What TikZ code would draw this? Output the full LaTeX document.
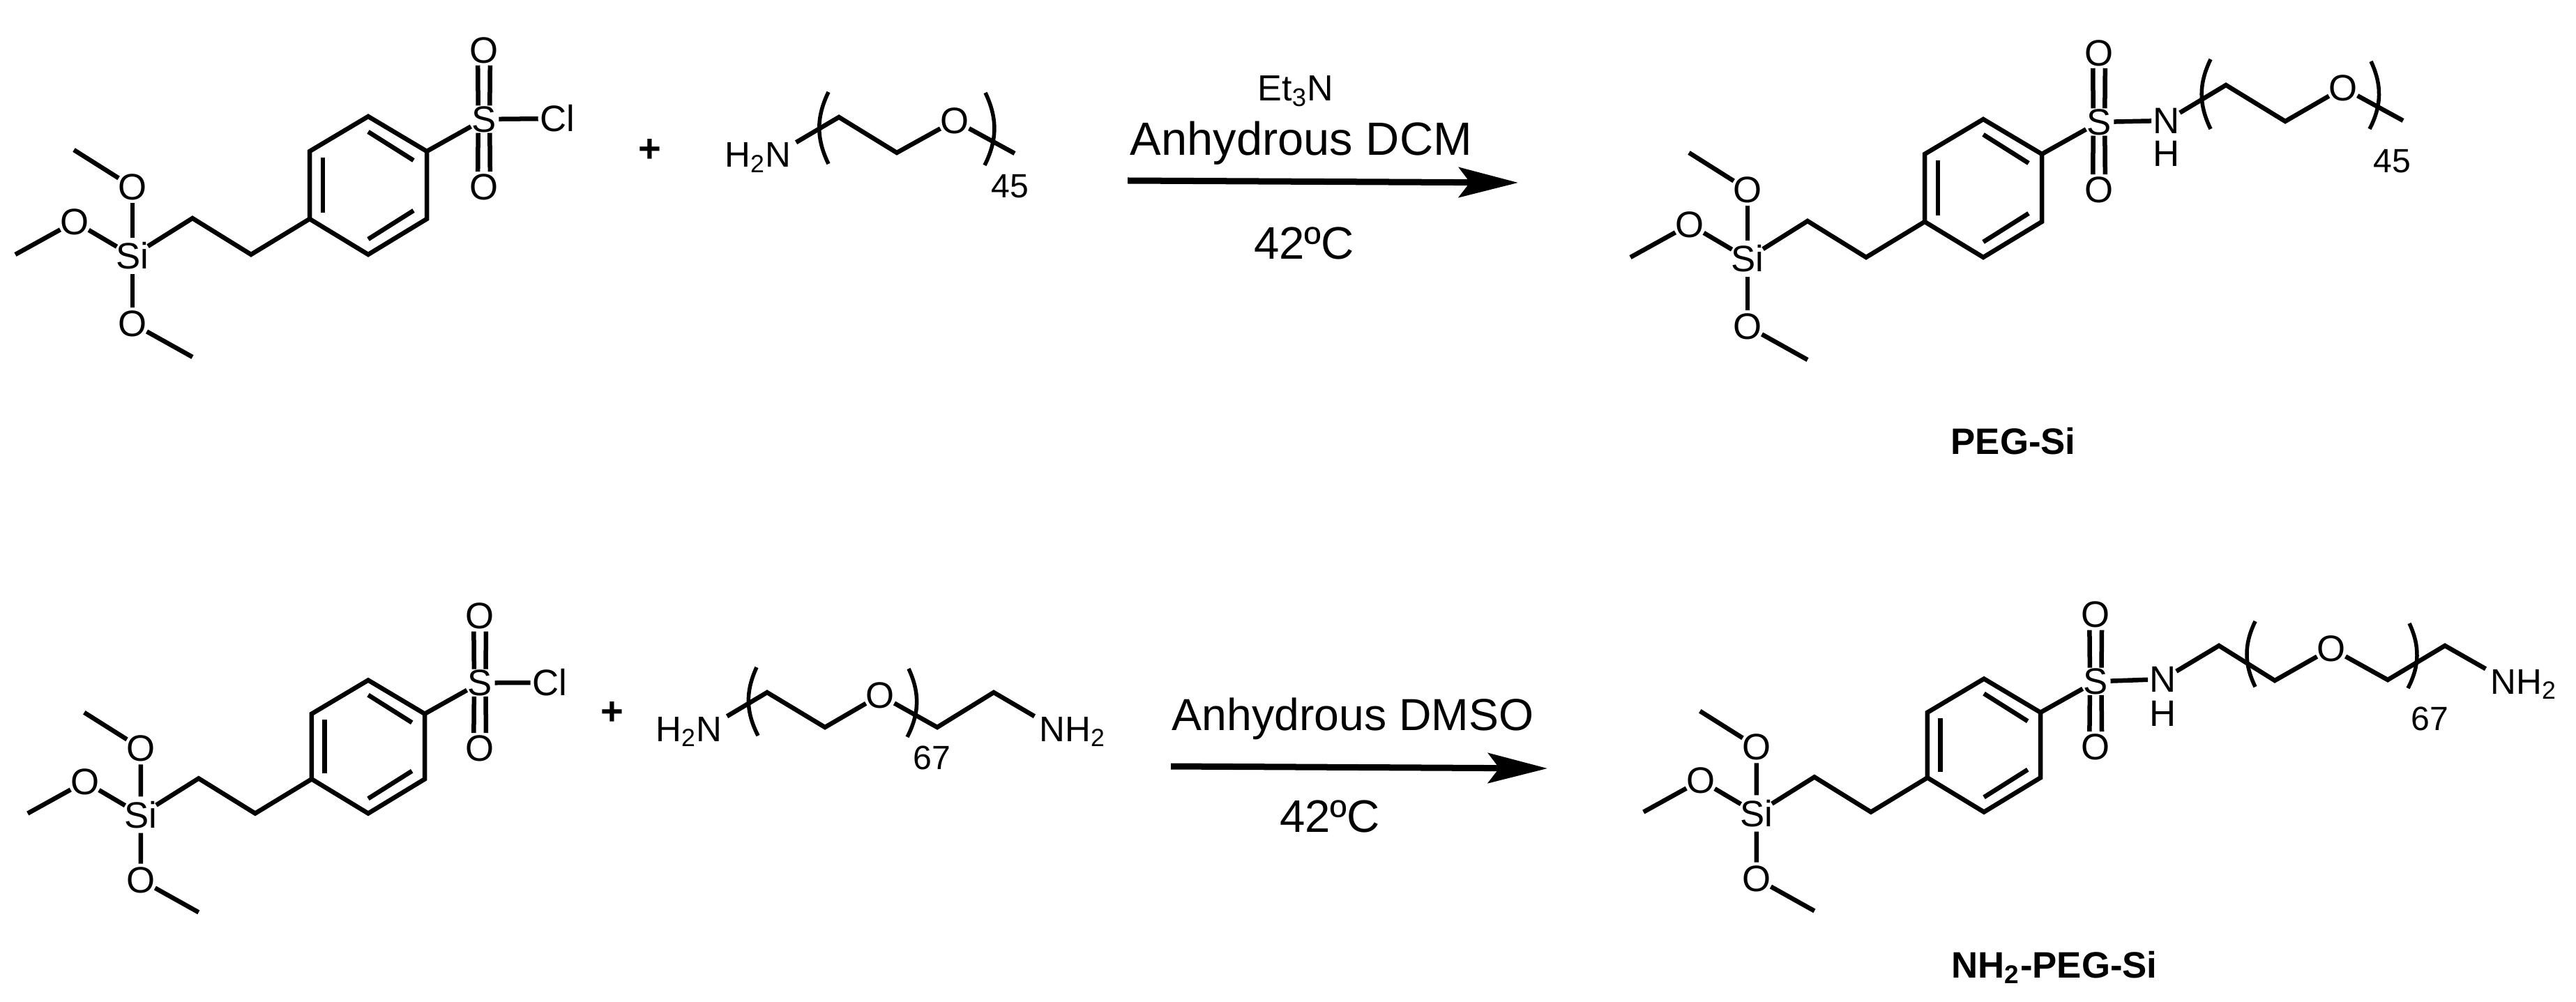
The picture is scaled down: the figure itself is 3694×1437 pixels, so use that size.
\documentclass[tikz,border=0pt]{standalone}
\usepackage{fontspec}
\setmainfont{Liberation Sans}
\usetikzlibrary{arrows.meta}
\usetikzlibrary{positioning}

\begin{document}
\begin{tikzpicture}[x=.01cm,y=-.01cm,>={Stealth[length=.85cm,width=.43cm,inset=.16cm]},
  bond/.style={line width=.065cm},
  paren/.style={line width=.055cm},
  rxn arrow/.style={->,line width=.09cm},
  atom node/.style={circle,inner sep=-1pt,font=\fontsize{15}{18}\selectfont},
  group node/.style={inner xsep=2.5pt,inner ysep=0pt,anchor=base,font=\fontsize{14.5}{17}\selectfont},
  count node/.style={inner sep=0pt,font=\fontsize{13.7}{16}\selectfont},
  plus node/.style={inner sep=0pt,font=\fontsize{16}{18}\selectfont\bfseries},
  cond node/.style={inner sep=0pt,anchor=base,font=\fontsize{18.6}{22}\selectfont},
  name node/.style={inner sep=0pt,anchor=base,font=\fontsize{15}{18}\selectfont\bfseries}]

  \useasboundingbox (0,0) rectangle (3694,1437);

  \foreach \m/\cx/\cy/\s in {a/528/266/1,b/2844/270/1,c/528/1071/.965,d/2845/1069/.965} {
    \begin{scope}[shift={(\cx,\cy)},scale=\s]
      \coordinate (\m r1) at (0,-99);
      \coordinate (\m r2) at (84,-49);
      \coordinate (\m r3) at (84,48);
      \coordinate (\m r4) at (0,99);
      \coordinate (\m r5) at (-84,48);
      \coordinate (\m r6) at (-84,-49);
      \coordinate (\m c1) at (-168,99);
      \coordinate (\m c2) at (-252,47);
      \coordinate (\m me1) at (-422,-51);
      \coordinate (\m me2) at (-506,99);
      \coordinate (\m me3) at (-252,246);

      \node[atom node] (\m s) at (166,-95) {S};
      \node[atom node] (\m so1) at (166,-194) {O};
      \node[atom node] (\m so2) at (166,2) {O};
      \node[atom node] (\m si) at (-338,101) {Si};
      \node[atom node] (\m o1) at (-338,2) {O};
      \node[atom node] (\m o2) at (-421,52) {O};
      \node[atom node] (\m o3) at (-338,198) {O};

      \draw[bond] (\m r1) -- (\m r2) -- (\m r3) -- (\m r4) -- (\m r5) -- (\m r6) -- cycle;
      \draw[bond] (0,-77) -- (65,-36);
      \draw[bond] (65,36) -- (0,77);
      \draw[bond] (-65,39) -- (-65,-40);

      \draw[bond] (\m r2) -- (\m s);
      \draw[bond] (\m s.67) -- (\m so1.-68);
      \draw[bond] (\m s.113) -- (\m so1.-112);
      \draw[bond] (\m s.-67) -- (\m so2.68);
      \draw[bond] (\m s.-113) -- (\m so2.112);

      \draw[bond] (\m r5) -- (\m c1) -- (\m c2) -- (\m si);
      \draw[bond] (\m si) -- (\m o1);
      \draw[bond] (\m si) -- (\m o2);
      \draw[bond] (\m si) -- (\m o3);
      \draw[bond] (\m o1) -- (\m me1);
      \draw[bond] (\m o2) -- (\m me2);
      \draw[bond] (\m o3) -- (\m me3);
    \end{scope}
  }

  \node[atom node] (acl) at (799,170) {Cl};
  \node[atom node] (ccl) at (788,979) {Cl};
  \draw[bond] (as) -- (acl);
  \draw[bond] (cs) -- (ccl);

  \node[plus node] (p1) at (932,216) {+};
  \node[plus node] (p2) at (878,1023) {+};

  % reagents
  \node[group node] (h2n) at (1087,240) {H\textsubscript{2}N};
  \node[atom node] (eo) at (1369,173) {O};
  \coordinate (e1) at (1203,168);
  \coordinate (e2) at (1286,219);
  \coordinate (e3) at (1455,220);
  \draw[bond] (h2n.22) -- (e1) -- (e2) -- (eo);
  \draw[bond] (eo) -- (e3);
  \coordinate (el1) at (1188,132);
  \coordinate (el2) at (1188,235);
  \coordinate (er1) at (1413,133);
  \coordinate (er2) at (1412,237);
  \draw[paren] (el1) to[bend right=26] (el2);
  \draw[paren] (er1) to[bend left=26] (er2);
  \node[count node] (en) at (1448,267) {45};

  \node[group node] (gh2n) at (988,1063) {H\textsubscript{2}N};
  \node[group node] (gnh2) at (1538,1063) {NH\textsubscript{2}};
  \node[atom node] (go) at (1262,997) {O};
  \coordinate (g1) at (1100,993);
  \coordinate (g2) at (1183,1043);
  \coordinate (g3) at (1344,1043);
  \coordinate (g4) at (1425,993);
  \draw[bond] (gh2n.22) -- (g1) -- (g2) -- (go);
  \draw[bond] (go) -- (g3) -- (g4) -- (gnh2.158);
  \coordinate (gl1) at (1085,957);
  \coordinate (gl2) at (1087,1055);
  \coordinate (gr1) at (1303,959);
  \coordinate (gr2) at (1301,1057);
  \draw[paren] (gl1) to[bend right=26] (gl2);
  \draw[paren] (gr1) to[bend left=26] (gr2);
  \node[count node] (gn) at (1336,1087) {67};

  % conditions
  \coordinate (a1) at (1617,259);
  \coordinate (a2) at (2177,262);
  \draw[rxn arrow] (a1) -- (a2);
  \node[cond node,font=\fontsize{14.8}{18}\selectfont] (et) at (1858,145) {Et\textsubscript{3}N};
  \node[cond node,font=\fontsize{19}{22}\selectfont] (dcm) at (1866,223) {Anhydrous DCM};
  \node[cond node] (t1) at (1870,372) {42ºC};

  \coordinate (a3) at (1679,1099);
  \coordinate (a4) at (2219,1102);
  \draw[rxn arrow] (a3) -- (a4);
  \node[cond node,font=\fontsize{18.3}{22}\selectfont] (dmso) at (1940,1047) {Anhydrous DMSO};
  \node[cond node] (t2) at (1907,1193) {42ºC};

  % products
  \node[atom node] (bn) at (3107,173) {N};
  \node[atom node] (bh) [below=.03cm of bn] {H};
  \node[atom node] (bo) at (3360,126) {O};
  \coordinate (b1) at (3192,122);
  \coordinate (b2) at (3277,174);
  \coordinate (b3) at (3446,173);
  \draw[bond] (bs) -- (bn);
  \draw[bond] (bn) -- (b1) -- (b2) -- (bo);
  \draw[bond] (bo) -- (b3);
  \coordinate (bl1) at (3170,85);
  \coordinate (bl2) at (3170,185);
  \coordinate (br1) at (3400,88);
  \coordinate (br2) at (3398,185);
  \draw[paren] (bl1) to[bend right=26] (bl2);
  \draw[paren] (br1) to[bend left=26] (br2);
  \node[count node] (bcount) at (3430,231) {45};
  \node[name node] (peg) at (2887,652) {PEG-Si};

  \node[atom node] (dn) at (3102,974) {N};
  \node[atom node] (dh) [below=.05cm of dn] {H};
  \node[atom node] (do) at (3343,930) {O};
  \node[group node] (dnh2) at (3619,995) {NH\textsubscript{2}};
  \coordinate (d1) at (3182,926);
  \coordinate (d2) at (3262,976);
  \coordinate (d3) at (3424,975);
  \coordinate (d4) at (3506,926);
  \draw[bond] (ds) -- (dn);
  \draw[bond] (dn) -- (d1) -- (d2) -- (do);
  \draw[bond] (do) -- (d3) -- (d4) -- (dnh2.158);
  \coordinate (dl1) at (3234,891);
  \coordinate (dl2) at (3234,985);
  \coordinate (dr1) at (3455,894);
  \coordinate (dr2) at (3453,987);
  \draw[paren] (dl1) to[bend right=26] (dl2);
  \draw[paren] (dr1) to[bend left=26] (dr2);
  \node[count node] (dcount) at (3484,1031) {67};
  \node[name node] (npeg) at (2946,1402) {NH\textsubscript{2}-PEG-Si};
\end{tikzpicture}
\end{document}
